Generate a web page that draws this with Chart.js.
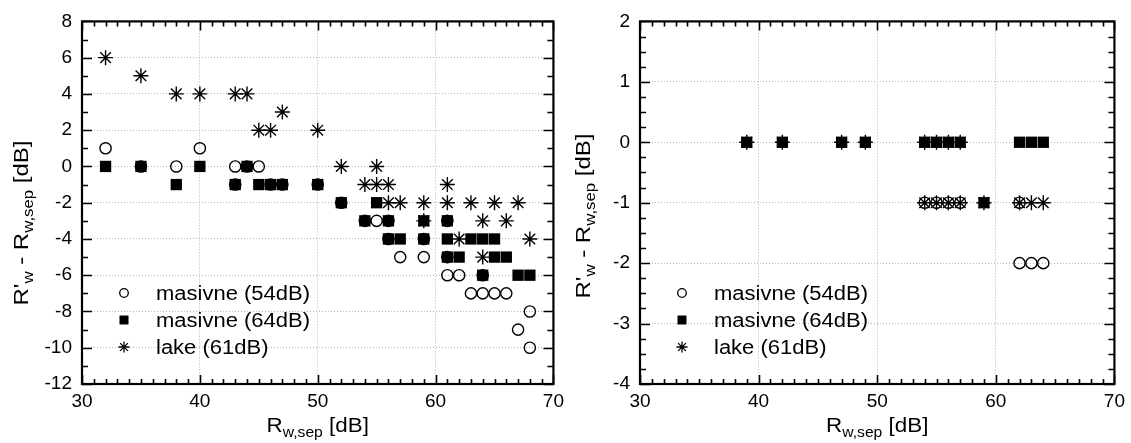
<!DOCTYPE html>
<html>
<head>
<meta charset="utf-8">
<script src="https://cdn.jsdelivr.net/npm/chart.js@4.4.1/dist/chart.umd.min.js"></script>
<style>
  html, body { margin: 0; padding: 0; background: #fff; }
  body { width: 1131px; height: 443px; position: relative; overflow: hidden; }
  .wrap { position: absolute; top: 0; height: 443px; }
  #w1 { left: 0; width: 570px; }
  #w2 { left: 560px; width: 571px; }
  canvas { display: block; }
</style>
</head>
<body>
<div class="wrap" id="w1"><canvas id="c1" width="570" height="443"></canvas></div>
<div class="wrap" id="w2"><canvas id="c2" width="571" height="443"></canvas></div>
<script>
// ---------- DATA ----------
const SERIES_LABELS = ['masivne (54dB)', 'masivne (64dB)', 'lake (61dB)'];

// Left panel
const LEFT_CIRCLE_X = [32,35,38,40,43,43,44,45,46,47,50,52,54,55,56,56,57,59,59,61,61,61,62,63,64,65,66,64,67,68,68];
const LEFT_CIRCLE_Y = [1,0,0,1,0,-1,0,0,-1,-1,-1,-2,-3,-3,-3,-4,-5,-4,-5,-3,-5,-6,-6,-7,-7,-7,-7,-6,-9,-8,-10];
const LEFT_SQUARE_X = [32,35,38,40,43,44,45,46,47,50,52,54,55,56,56,57,59,59,61,61,61,62,63,64,65,64,65,66,67,68];
const LEFT_SQUARE_Y = [0,0,-1,0,-1,0,-1,-1,-1,-1,-2,-3,-2,-3,-4,-4,-3,-4,-3,-4,-5,-5,-4,-4,-4,-6,-5,-5,-6,-6];
const LEFT_STAR_X = [32,35,38,40,43,44,45,46,47,50,52,55,54,55,56,61,56,57,59,61,63,65,67,59,64,66,62,68,64];
const LEFT_STAR_Y = [6,5,4,4,4,4,2,2,3,2,0,0,-1,-1,-1,-1,-2,-2,-2,-2,-2,-2,-2,-3,-3,-3,-4,-4,-5];

// Right panel
const RIGHT_CIRCLE_X = [54,55,56,57,62,62,63,64];
const RIGHT_CIRCLE_Y = [-1,-1,-1,-1,-1,-2,-2,-2];
const RIGHT_SQUARE_X = [39,42,47,49,54,55,56,57,59,62,63,64];
const RIGHT_SQUARE_Y = [0,0,0,0,0,0,0,0,-1,0,0,0];
const RIGHT_STAR_X = [39,42,47,49,54,55,56,57,54,55,56,57,59,62,63,64];
const RIGHT_STAR_Y = [0,0,0,0,0,0,0,0,-1,-1,-1,-1,-1,-1,-1,-1];

// Axes
const X_MIN = 30, X_MAX = 70, X_STEP = 10, X_MINOR = 1;
const LEFT_Y_MIN = -12, LEFT_Y_MAX = 8, LEFT_Y_STEP = 2, LEFT_Y_MINOR = 1;
const RIGHT_Y_MIN = -4, RIGHT_Y_MAX = 2, RIGHT_Y_STEP = 1, RIGHT_Y_MINOR = 0.25;

// ---------- HELPERS ----------
const FONT = '"Liberation Sans", Arial, Helvetica, sans-serif';
const zip = (xs, ys) => xs.map((x, i) => ({ x: x, y: ys[i] }));

function drawRich(ctx, parts, cx, by, rot, stretch) {
  ctx.save();
  ctx.translate(cx, by);
  if (rot) ctx.rotate(rot);
  ctx.scale(stretch, 1);
  ctx.fillStyle = '#000';
  ctx.textAlign = 'left';
  ctx.textBaseline = 'alphabetic';
  let total = 0;
  parts.forEach(p => {
    ctx.font = (p.sub ? '14px ' : '20px ') + FONT;
    p.w = ctx.measureText(p.t).width;
    total += p.w;
  });
  let x = -total / 2;
  parts.forEach(p => {
    ctx.font = (p.sub ? '14px ' : '20px ') + FONT;
    ctx.fillText(p.t, x, p.sub ? 5 : 0);
    x += p.w;
  });
  ctx.restore();
}

function legendMarker(ctx, kind, x, y) {
  ctx.save();
  ctx.strokeStyle = '#000';
  ctx.fillStyle = '#000';
  ctx.lineWidth = 1.3;
  if (kind === 0) {
    ctx.beginPath(); ctx.arc(x, y, 4.3, 0, Math.PI * 2); ctx.stroke();
  } else if (kind === 1) {
    ctx.fillRect(x - 4.5, y - 4.5, 9, 9);
  } else {
    const r = 5.5;
    ctx.beginPath();
    for (let k = 0; k < 4; k++) {
      const a = k * Math.PI / 4;
      ctx.moveTo(x - Math.cos(a) * r, y - Math.sin(a) * r);
      ctx.lineTo(x + Math.cos(a) * r, y + Math.sin(a) * r);
    }
    ctx.stroke();
  }
  ctx.restore();
}

function framePlugin(cfg) {
  return {
    id: 'frame' + cfg.name,
    afterDraw(chart) {
      const ctx = chart.ctx;
      const a = chart.chartArea;
      const xs = chart.scales.x, ys = chart.scales.y;
      ctx.save();
      ctx.strokeStyle = '#000';
      ctx.lineWidth = 1.6;
      ctx.beginPath();
      // x ticks (top and bottom, inward)
      const nx = Math.round((X_MAX - X_MIN) / X_MINOR);
      for (let i = 0; i <= nx; i++) {
        const v = X_MIN + i * X_MINOR;
        const px = Math.round(xs.getPixelForValue(v)) + 0.5;
        const major = Math.abs(v / X_STEP - Math.round(v / X_STEP)) < 1e-6;
        const len = major ? 9 : 5;
        ctx.moveTo(px, a.bottom); ctx.lineTo(px, a.bottom - len);
        ctx.moveTo(px, a.top); ctx.lineTo(px, a.top + len);
      }
      // y ticks (left and right, inward)
      const ny = Math.round((cfg.yMax - cfg.yMin) / cfg.yMinor);
      for (let i = 0; i <= ny; i++) {
        const v = cfg.yMin + i * cfg.yMinor;
        const py = Math.round(ys.getPixelForValue(v)) + 0.5;
        const major = Math.abs(v / cfg.yStep - Math.round(v / cfg.yStep)) < 1e-6;
        const len = major ? 10 : 6;
        ctx.moveTo(a.left, py); ctx.lineTo(a.left + len, py);
        ctx.moveTo(a.right, py); ctx.lineTo(a.right - len, py);
      }
      ctx.stroke();
      ctx.lineWidth = 2.2;
      ctx.strokeRect(a.left, a.top, a.right - a.left, a.bottom - a.top);
      ctx.restore();

      // axis titles
      const cxX = (a.left + a.right) / 2;
      drawRich(ctx, [
        { t: 'R' }, { t: 'w,sep', sub: true }, { t: ' [dB]' }
      ], cxX, 432, 0, 1.12);
      drawRich(ctx, [
        { t: "R'" }, { t: 'w', sub: true }, { t: ' - R' }, { t: 'w,sep', sub: true }, { t: ' [dB]' }
      ], cfg.yTitleX, cfg.yTitleCY, -Math.PI / 2, 1.2);

      // legend
      ctx.save();
      const rows = [293, 320, 347];
      chart.data.datasets.forEach((ds, i) => {
        legendMarker(ctx, i, a.left + 42, rows[i]);
        ctx.save();
        ctx.translate(a.left + 74, rows[i] + 7);
        ctx.scale(1.1, 1);
        ctx.font = '20px ' + FONT;
        ctx.fillStyle = '#000';
        ctx.textAlign = 'left';
        ctx.textBaseline = 'alphabetic';
        ctx.fillText(ds.label, 0, 0);
        ctx.restore();
      });
      ctx.restore();
    }
  };
}

function makeChart(canvasId, cfg) {
  const datasets = [
    {
      label: SERIES_LABELS[0], data: zip(cfg.cx, cfg.cy),
      pointStyle: 'circle', pointRadius: 5.6, pointBorderWidth: 1.4,
      borderColor: '#000', backgroundColor: 'rgba(0,0,0,0)'
    },
    {
      label: SERIES_LABELS[1], data: zip(cfg.sx, cfg.sy),
      pointStyle: 'rect', pointRadius: 8, pointBorderWidth: 0,
      borderColor: '#000', backgroundColor: '#000'
    },
    {
      label: SERIES_LABELS[2], data: zip(cfg.tx, cfg.ty),
      pointStyle: 'star', pointRadius: 7.5, pointBorderWidth: 1.4,
      borderColor: '#000', backgroundColor: '#000'
    }
  ];
  return new Chart(document.getElementById(canvasId), {
    type: 'scatter',
    data: { datasets: datasets },
    options: {
      responsive: false,
      devicePixelRatio: 1,
      animation: false,
      events: [],
      clip: false,
      layout: { padding: { top: 20, right: cfg.padRight, left: 0, bottom: 0 } },
      plugins: { legend: { display: false }, tooltip: { enabled: false }, title: { display: false } },
      scales: {
        x: {
          type: 'linear', position: 'bottom',
          min: X_MIN, max: X_MAX,
          ticks: { stepSize: X_STEP, color: '#000', font: { family: FONT, size: 19 }, padding: 6, maxRotation: 0 },
          grid: { color: '#b4b4b4', lineWidth: 1, drawTicks: false },
          border: { display: false, dash: [1, 2] },
          afterFit(s) { s.height = 59; }
        },
        y: {
          type: 'linear', position: 'left',
          min: cfg.yMin, max: cfg.yMax,
          ticks: { stepSize: cfg.yStep, color: '#000', font: { family: FONT, size: 19 }, padding: 10 },
          grid: { color: '#b4b4b4', lineWidth: 1, drawTicks: false },
          border: { display: false, dash: [1, 2] },
          afterFit(s) { s.width = cfg.yWidth; }
        }
      }
    },
    plugins: [framePlugin(cfg)]
  });
}

makeChart('c1', {
  name: 'L',
  cx: LEFT_CIRCLE_X, cy: LEFT_CIRCLE_Y,
  sx: LEFT_SQUARE_X, sy: LEFT_SQUARE_Y,
  tx: LEFT_STAR_X, ty: LEFT_STAR_Y,
  yMin: LEFT_Y_MIN, yMax: LEFT_Y_MAX, yStep: LEFT_Y_STEP, yMinor: LEFT_Y_MINOR,
  yWidth: 82, padRight: 12,
  yTitleX: 28, yTitleCY: 223
});
makeChart('c2', {
  name: 'R',
  cx: RIGHT_CIRCLE_X, cy: RIGHT_CIRCLE_Y,
  sx: RIGHT_SQUARE_X, sy: RIGHT_SQUARE_Y,
  tx: RIGHT_STAR_X, ty: RIGHT_STAR_Y,
  yMin: RIGHT_Y_MIN, yMax: RIGHT_Y_MAX, yStep: RIGHT_Y_STEP, yMinor: RIGHT_Y_MINOR,
  yWidth: 80, padRight: 13,
  yTitleX: 30, yTitleCY: 216
});
</script>
</body>
</html>
